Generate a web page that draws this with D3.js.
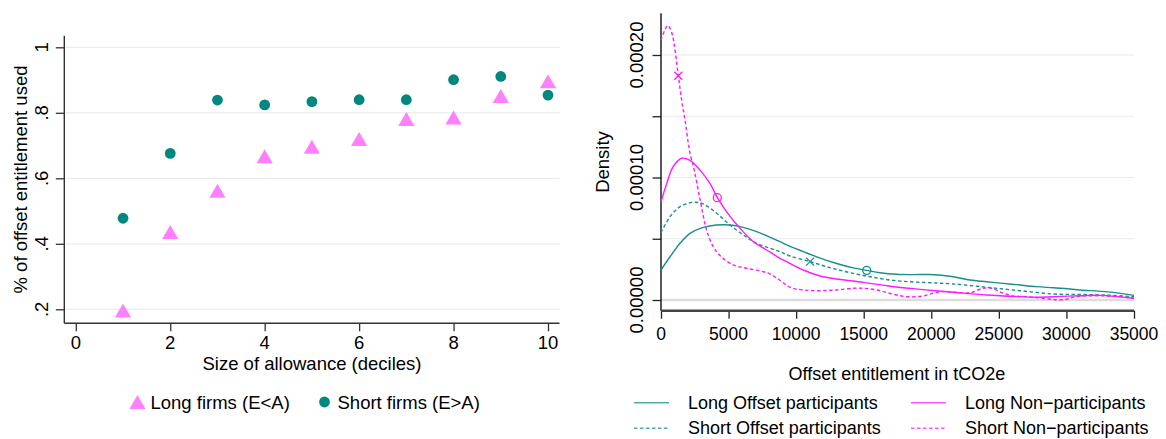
<!DOCTYPE html>
<html><head><meta charset="utf-8">
<script src="https://cdn.jsdelivr.net/npm/d3@7"></script>
<style>
body{margin:0;background:#fff}
svg{display:block}
text{font-family:"Liberation Sans",Arial,Helvetica,sans-serif;fill:#000}
</style>
</head><body>
<svg id="chart" width="1166" height="439"></svg>
<script>
// ---------- Left panel data ----------
const deciles = [1, 2, 3, 4, 5, 6, 7, 8, 9, 10];
const longFirms = [0.196, 0.436, 0.562, 0.667, 0.696, 0.720, 0.781, 0.786, 0.851, 0.896];
const shortFirms = [0.478, 0.676, 0.839, 0.824, 0.834, 0.840, 0.840, 0.901, 0.911, 0.854];
const leftXTicks = [0, 2, 4, 6, 8, 10];
const leftYTicks = [0.2, 0.4, 0.6, 0.8, 1];
const leftYTickLabels = [".2", ".4", ".6", ".8", "1"];
const leftLegend = ["Long firms (E<A)", "Short firms (E>A)"];

// ---------- Right panel data (entitlement tCO2e, density) ----------
const rightXTicks = [0, 5000, 10000, 15000, 20000, 25000, 30000, 35000];
const rightYTicks = [0, 0.00005, 0.0001, 0.00015, 0.0002];
const rightYLabelTicks = [0, 0.0001, 0.0002];
const rightYTickLabels = ["0.00000", "0.00010", "0.00020"];

const longOffsetParticipants = [
  [0,2.45e-5],[670,3.53e-5],[1410,4.63e-5],[2150,5.44e-5],[3130,5.93e-5],[4120,6.12e-5],
  [5110,6.12e-5],[6090,5.93e-5],[7080,5.58e-5],[8070,5.12e-5],[8810,4.76e-5],[9300,4.5e-5],
  [10530,3.95e-5],[11770,3.42e-5],[13000,2.98e-5],[14230,2.62e-5],[15220,2.42e-5],[16210,2.23e-5],
  [17440,2.1e-5],[18670,2.07e-5],[19910,2.08e-5],[21630,1.9e-5],[22870,1.63e-5],
  [24100,1.49e-5],[25330,1.36e-5],[26570,1.22e-5],[27800,1.09e-5],[29030,1.0e-5],[30270,0.9e-5],
  [31010,0.82e-5],[33080,0.66e-5],[35000,0.38e-5]
];
const shortOffsetParticipants = [
  [0,5.5e-5],[670,6.8e-5],[1410,7.62e-5],[2390,7.98e-5],[3130,7.84e-5],[4120,7.08e-5],
  [5110,6.12e-5],[6090,5.31e-5],[7080,4.63e-5],[8070,4.22e-5],[8810,3.94e-5],[9550,3.59e-5],
  [11030,3.13e-5],[12510,2.64e-5],[13990,2.23e-5],[15470,1.9e-5],[16950,1.63e-5],[18430,1.49e-5],
  [19910,1.41e-5],[21630,1.31e-5],[24100,1.04e-5],[26570,0.76e-5],[29030,0.49e-5],[31010,0.45e-5],
  [33000,0.4e-5],[35000,0.27e-5]
];
const longNonParticipants = [
  [0,8.0e-5],[420,9.5e-5],[910,10.9e-5],[1530,11.57e-5],[2150,11.4e-5],[2890,10.6e-5],
  [3630,9.5e-5],[4170,8.35e-5],[4860,7.2e-5],[5850,5.85e-5],[6830,4.76e-5],[7820,4.08e-5],
  [8810,3.4e-5],[9300,3.13e-5],[10530,2.45e-5],[11770,1.96e-5],[13000,1.71e-5],[14230,1.55e-5],
  [15470,1.36e-5],[16700,1.17e-5],[17930,1.0e-5],[19170,0.87e-5],[21630,0.63e-5],
  [24100,0.41e-5],[26570,0.27e-5],[27800,0.22e-5],[29030,0.27e-5],[31010,0.35e-5],[32530,0.38e-5],
  [35000,0.14e-5]
];
const shortNonParticipants = [
  [0,21.2e-5],[500,22.4e-5],[800,21.8e-5],[1280,18.3e-5],[1530,16.3e-5],[1780,14.7e-5],
  [2020,12.8e-5],[2200,11.7e-5],[2400,10.9e-5],[2890,8.2e-5],[3380,5.7e-5],[3870,4.35e-5],
  [4490,3.5e-5],[5350,2.86e-5],[6340,2.59e-5],[7570,2.31e-5],[8070,2.12e-5],[8810,1.6e-5],
  [9550,1.04e-5],[10530,0.82e-5],[11770,0.76e-5],[13000,0.82e-5],[14230,0.96e-5],[14970,0.96e-5],
  [15960,0.82e-5],[17190,0.47e-5],[18180,0.27e-5],[19410,0.33e-5],[20150,0.55e-5],[20890,0.68e-5],
  [21630,0.63e-5],[22870,0.6e-5],[23850,0.96e-5],[24470,0.96e-5],[25210,0.6e-5],[26070,0.33e-5],
  [27060,0.27e-5],[28290,0.14e-5],[29280,0.02e-5],[30020,0.06e-5],[30600,0.25e-5],[32530,0.35e-5],
  [35000,0.14e-5]
];
// mean markers on each curve
const longOffsetMarker = [15220, 2.42e-5];
const shortOffsetMarker = [11030, 3.13e-5];
const longNonMarker = [4170, 8.35e-5];
const shortNonMarker = [1280, 18.3e-5];
const rightLegend = ["Long Offset participants", "Short Offset participants", "Long Non\u2212participants", "Short Non\u2212participants"];

// ---------- styles ----------
const TEAL = "#00877f";
const PINK = "#ff80ff";
const LTEAL = "#1a8e8e";
const MAG = "#ff1aff";
const GRID = "#e8eded";
const FS = 18.5;

const svg = d3.select("#chart");

// ================= LEFT PANEL =================
const xL = d3.scaleLinear().domain([0, 10]).range([75.8, 548]);
const yL = d3.scaleLinear().domain([0.2, 1]).range([309.3, 47.3]);
const L = svg.append("g");
const lAxisX0 = 64.3, lAxisX1 = 559.5, lAxisY = 323.3, lAxisTop = 35.7;

// gridlines
L.selectAll(".g").data(leftYTicks).join("line")
  .attr("x1", lAxisX0).attr("x2", lAxisX1)
  .attr("y1", d => yL(d)).attr("y2", d => yL(d))
  .attr("stroke", GRID).attr("stroke-width", 1.3);

// y axis
const yAxL = d3.axisLeft(yL).tickValues(leftYTicks).tickSize(8.5).tickFormat("");
L.append("g").attr("transform", `translate(${lAxisX0},0)`).call(yAxL)
  .call(g => g.select(".domain").remove())
  .call(g => g.selectAll(".tick line").attr("stroke", "#333").attr("stroke-width", 1.3));
L.append("line").attr("x1", lAxisX0).attr("x2", lAxisX0).attr("y1", lAxisTop).attr("y2", lAxisY)
  .attr("stroke", "#333").attr("stroke-width", 1.4);
L.selectAll(".yl").data(leftYTicks).join("text")
  .attr("transform", (d) => `translate(41,${yL(d)}) rotate(-90)`)
  .attr("text-anchor", "middle").attr("dominant-baseline", "central")
  .style("font-size", FS + "px")
  .text((d, i) => leftYTickLabels[i]);

// x axis
const xAxL = d3.axisBottom(xL).tickValues(leftXTicks).tickSize(8).tickFormat("");
L.append("g").attr("transform", `translate(0,${lAxisY})`).call(xAxL)
  .call(g => g.select(".domain").remove())
  .call(g => g.selectAll(".tick line").attr("stroke", "#333").attr("stroke-width", 1.3));
L.append("line").attr("x1", lAxisX0).attr("x2", lAxisX1).attr("y1", lAxisY).attr("y2", lAxisY)
  .attr("stroke", "#333").attr("stroke-width", 1.4);
L.selectAll(".xl").data(leftXTicks).join("text")
  .attr("x", d => xL(d)).attr("y", 342)
  .attr("text-anchor", "middle").attr("dominant-baseline", "central")
  .style("font-size", FS + "px").text(d => d);

// titles
L.append("text").attr("transform", "translate(20.5,179.5) rotate(-90)")
  .attr("text-anchor", "middle").attr("dominant-baseline", "central")
  .style("font-size", FS + "px").text("% of offset entitlement used");
L.append("text").attr("x", 312).attr("y", 363)
  .attr("text-anchor", "middle").attr("dominant-baseline", "central")
  .style("font-size", FS + "px").text("Size of allowance (deciles)");

// triangle symbol centred on its bounding box
const triType = { draw(ctx, size) { const h = Math.sqrt(size); ctx.moveTo(0, -h / 2); ctx.lineTo(h * 0.58, h / 2); ctx.lineTo(-h * 0.58, h / 2); ctx.closePath(); } };
const tri = d3.symbol().type(triType).size(196);

L.selectAll(".tri").data(deciles).join("path")
  .attr("transform", (d, i) => `translate(${xL(d)},${yL(longFirms[i])})`)
  .attr("d", tri).attr("fill", PINK);
L.selectAll(".cir").data(deciles).join("circle")
  .attr("cx", d => xL(d)).attr("cy", (d, i) => yL(shortFirms[i]))
  .attr("r", 5.4).attr("fill", TEAL);

// legend
L.append("path").attr("transform", "translate(137.5,402)").attr("d", tri).attr("fill", PINK);
L.append("text").attr("x", 150.5).attr("y", 402).attr("dominant-baseline", "central")
  .style("font-size", FS + "px").text(leftLegend[0]);
L.append("circle").attr("cx", 324.5).attr("cy", 402).attr("r", 5.4).attr("fill", TEAL);
L.append("text").attr("x", 337.5).attr("y", 402).attr("dominant-baseline", "central")
  .style("font-size", FS + "px").text(leftLegend[1]);

// ================= RIGHT PANEL =================
const xR = d3.scaleLinear().domain([0, 35000]).range([661, 1134]);
const yR = d3.scaleLinear().domain([0, 0.0002]).range([300, 55]);
const R = svg.append("g");
const rAxisX0 = 661, rAxisX1 = 1134, rAxisY = 310.7, rAxisTop = 13.3;

// gridlines
R.selectAll(".g").data(rightYTicks.filter(d => d > 0)).join("line")
  .attr("x1", rAxisX0).attr("x2", rAxisX1)
  .attr("y1", d => yR(d)).attr("y2", d => yR(d))
  .attr("stroke", "#e9e9e9").attr("stroke-width", 1.2);
R.append("line").attr("x1", rAxisX0).attr("x2", rAxisX1).attr("y1", yR(0)).attr("y2", yR(0))
  .attr("stroke", "#dcdcdc").attr("stroke-width", 2.6);

// y axis
const yAxR = d3.axisLeft(yR).tickValues(rightYTicks).tickSize(8.5).tickFormat("");
R.append("g").attr("transform", `translate(${rAxisX0},0)`).call(yAxR)
  .call(g => g.select(".domain").remove())
  .call(g => g.selectAll(".tick line").attr("stroke", "#222").attr("stroke-width", 1.3));
R.append("line").attr("x1", rAxisX0).attr("x2", rAxisX0).attr("y1", rAxisTop).attr("y2", rAxisY)
  .attr("stroke", "#111").attr("stroke-width", 1.4);
R.selectAll(".yl").data(rightYLabelTicks).join("text")
  .attr("transform", d => `translate(636,${yR(d)}) rotate(-90)`)
  .attr("text-anchor", "middle").attr("dominant-baseline", "central")
  .style("font-size", FS + "px")
  .text((d, i) => rightYTickLabels[i]);

// x axis
const xAxR = d3.axisBottom(xR).tickValues(rightXTicks).tickSize(8).tickFormat("");
R.append("g").attr("transform", `translate(0,${rAxisY})`).call(xAxR)
  .call(g => g.select(".domain").remove())
  .call(g => g.selectAll(".tick line").attr("stroke", "#222").attr("stroke-width", 1.3));
R.append("line").attr("x1", rAxisX0).attr("x2", rAxisX1).attr("y1", rAxisY).attr("y2", rAxisY)
  .attr("stroke", "#444").attr("stroke-width", 2.4);
R.selectAll(".xl").data(rightXTicks).join("text")
  .attr("x", d => xR(d)).attr("y", 334)
  .attr("text-anchor", "middle").attr("dominant-baseline", "central")
  .style("font-size", "17.5px").text(d => d);

// titles
R.append("text").attr("transform", "translate(602,162) rotate(-90)")
  .attr("text-anchor", "middle").attr("dominant-baseline", "central")
  .style("font-size", FS + "px").text("Density");
R.append("text").attr("x", 897).attr("y", 373.5)
  .attr("text-anchor", "middle").attr("dominant-baseline", "central")
  .style("font-size", "18px").text("Offset entitlement in tCO2e");

// curves
const line = d3.line().x(d => xR(d[0])).y(d => yR(d[1])).curve(d3.curveCatmullRom.alpha(0.5));
const series = [
  { data: longOffsetParticipants, color: LTEAL, dash: null, marker: longOffsetMarker, sym: "o" },
  { data: shortOffsetParticipants, color: LTEAL, dash: "3.5,2.5", marker: shortOffsetMarker, sym: "x" },
  { data: longNonParticipants, color: MAG, dash: null, marker: longNonMarker, sym: "o" },
  { data: shortNonParticipants, color: MAG, dash: "3.5,2.5", marker: shortNonMarker, sym: "x" }
];
series.forEach(s => {
  R.append("path").attr("d", line(s.data)).attr("fill", "none")
    .attr("stroke", s.color).attr("stroke-width", 1.4)
    .attr("stroke-dasharray", s.dash);
  const mx = xR(s.marker[0]), my = yR(s.marker[1]);
  if (s.sym === "o") {
    R.append("circle").attr("cx", mx).attr("cy", my).attr("r", 4)
      .attr("fill", "none").attr("stroke", s.color).attr("stroke-width", 1.3);
  } else {
    R.append("path").attr("d", `M${mx - 4},${my - 4}L${mx + 4},${my + 4}M${mx - 4},${my + 4}L${mx + 4},${my - 4}`)
      .attr("stroke", s.color).attr("stroke-width", 1.3);
  }
});

// legend
const legPos = [[634, 402.7], [634, 428.3], [911, 402.7], [911, 428.3]];
series.forEach((s, i) => {
  const [lx, ly] = legPos[i];
  R.append("line").attr("x1", lx).attr("x2", lx + 35).attr("y1", ly).attr("y2", ly)
    .attr("stroke", s.color).attr("stroke-width", 1.4).attr("stroke-dasharray", s.dash)
    .attr("stroke-opacity", 0.75);
  R.append("text").attr("x", lx + 54).attr("y", ly).attr("dominant-baseline", "central")
    .style("font-size", "18px").text(rightLegend[i]);
});
</script>
</body></html>
